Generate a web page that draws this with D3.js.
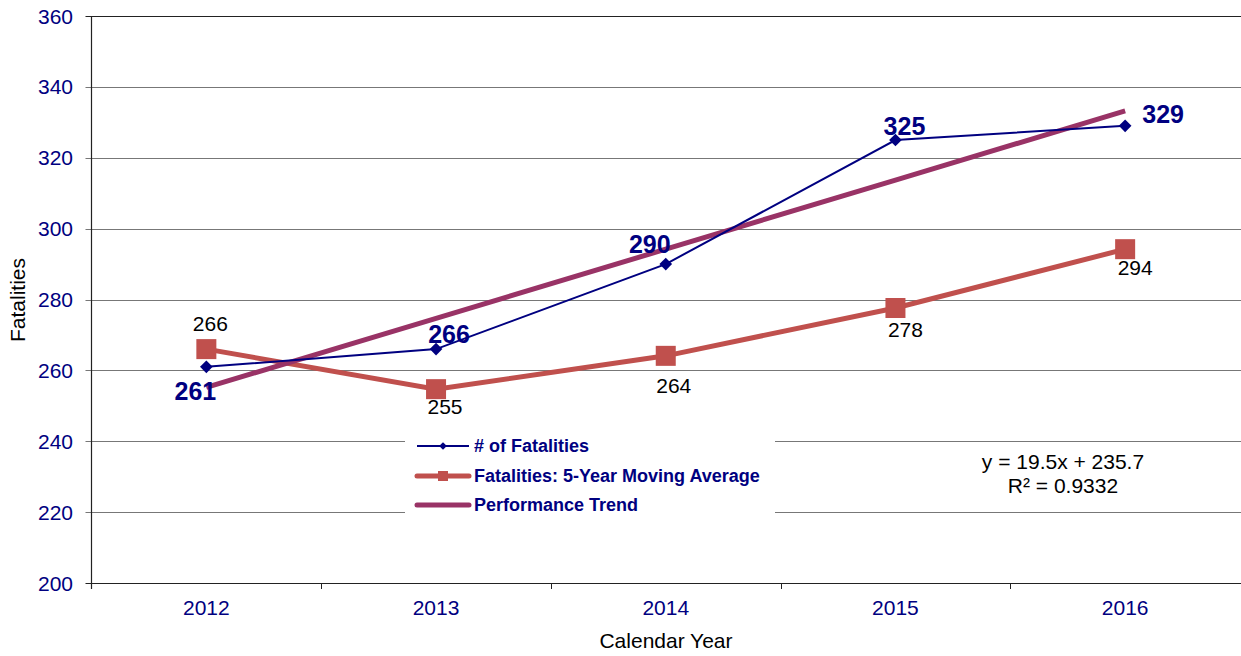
<!DOCTYPE html>
<html><head><meta charset="utf-8">
<script src="https://cdn.jsdelivr.net/npm/d3@7"></script>
<style>body{margin:0;background:#fff;}svg{display:block;font-family:"Liberation Sans",Arial,sans-serif;}</style>
</head><body><svg id="c" width="1241" height="656"></svg>
<script>
const years = ["2012","2013","2014","2015","2016"];
const fatalities = [261, 266, 290, 325, 329];
const movingAvg = [266.0, 254.7, 264.1, 277.6, 294.2];
const trendSlope = 19.5, trendIntercept = 235.7;
const trend = years.map((d,i)=>trendSlope*(i+1)+trendIntercept);
const yTicks = [200,220,240,260,280,300,320,340,360];
const legendLabels = ["# of Fatalities","Fatalities: 5-Year Moving Average","Performance Trend"];
const eqLines = ["y = 19.5x + 235.7","R\u00B2 = 0.9332"];

const svg = d3.select("#c");
const L=91.5, R=1240, T=16, B=583;
const x = d3.scaleBand().domain(years).range([L,R]);
const xc = d=>x(d)+x.bandwidth()/2;
const y = d3.scaleLinear().domain([200,360]).range([B,T]);
const navy="#000080", red="#C0504D", purple="#993366";

// gridlines
svg.append("g").selectAll("line").data(yTicks).join("line")
  .attr("x1",L-6).attr("x2",R+1).attr("y1",d=>Math.round(y(d))+0.5).attr("y2",d=>Math.round(y(d))+0.5)
  .attr("stroke",d=>d===360||d===200?"#222":"#777").attr("stroke-width",1.2);
// y tick labels
svg.append("g").selectAll("text").data(yTicks).join("text")
  .attr("x",73).attr("y",d=>y(d)).attr("dy","0.36em").attr("text-anchor","end")
  .attr("fill",navy).attr("font-size",21).text(d=>d);
// axes
svg.append("line").attr("x1",L).attr("x2",L).attr("y1",T).attr("y2",B+6).attr("stroke","#222").attr("stroke-width",1.2);
const xt = years.map(d=>x(d)).concat([R]);
svg.append("g").selectAll("line").data(xt.slice(1,5)).join("line")
  .attr("x1",d=>Math.round(d)+0.5).attr("x2",d=>Math.round(d)+0.5).attr("y1",B).attr("y2",B+6).attr("stroke","#222");
svg.append("g").selectAll("text").data(years).join("text")
  .attr("x",d=>xc(d)).attr("y",615).attr("text-anchor","middle").attr("fill",navy).attr("font-size",21).text(d=>d);
svg.append("text").attr("x",666).attr("y",648).attr("text-anchor","middle").attr("font-size",21).text("Calendar Year");
svg.append("text").attr("transform","translate(25,300) rotate(-90)").attr("text-anchor","middle").attr("font-size",21).text("Fatalities");

// legend background
const lg = svg.append("g");
lg.append("rect").attr("x",405).attr("y",431).attr("width",370).attr("height",88).attr("fill","#fff");

const line = d3.line().x((d,i)=>xc(years[i])).y(d=>y(d));
// moving average
svg.append("path").datum(movingAvg).attr("d",line).attr("fill","none").attr("stroke",red).attr("stroke-width",5);
svg.append("g").selectAll("rect").data(movingAvg).join("rect")
  .attr("x",(d,i)=>xc(years[i])-10).attr("y",d=>y(d)-10).attr("width",20).attr("height",20).attr("fill",red);
// trend
svg.append("path").datum(trend).attr("d",line).attr("fill","none").attr("stroke",purple).attr("stroke-width",5);
// fatalities
svg.append("path").datum(fatalities).attr("d",line).attr("fill","none").attr("stroke",navy).attr("stroke-width",2);
svg.append("g").selectAll("path").data(fatalities).join("path")
  .attr("d",d3.symbol().type(d3.symbolSquare).size(80))
  .attr("transform",(d,i)=>`translate(${xc(years[i])},${y(d)}) rotate(45)`).attr("fill",navy);

// fatalities labels
const fOff = [[-11,33],[13,-6],[-16,-11],[9,-5],[38,-3]];
svg.append("g").selectAll("text").data(fatalities).join("text")
  .attr("x",(d,i)=>xc(years[i])+fOff[i][0]).attr("y",(d,i)=>y(d)+fOff[i][1])
  .attr("text-anchor","middle").attr("font-size",25).attr("font-weight","bold").attr("fill",navy).text(d=>d);
// moving avg labels
const mOff = [[4,-18],[9,25],[8,37],[10,29],[10,26]];
svg.append("g").selectAll("text").data(movingAvg).join("text")
  .attr("x",(d,i)=>xc(years[i])+mOff[i][0]).attr("y",(d,i)=>y(d)+mOff[i][1])
  .attr("text-anchor","middle").attr("font-size",21).attr("fill","#000").text(d=>Math.round(d));

// legend entries
const rows=[446,476,505];
lg.raise();
lg.selectAll("text").data(legendLabels).join("text")
  .attr("x",474).attr("y",(d,i)=>rows[i]).attr("dy","0.36em").attr("font-size",18).attr("font-weight","bold").attr("fill",navy).text(d=>d);
lg.append("line").attr("x1",417).attr("x2",469).attr("y1",rows[0]).attr("y2",rows[0]).attr("stroke",navy).attr("stroke-width",2);
lg.append("path").attr("d",d3.symbol().type(d3.symbolSquare).size(30)()).attr("transform",`translate(443,${rows[0]}) rotate(45)`).attr("fill",navy);
lg.append("line").attr("x1",417).attr("x2",469).attr("y1",rows[1]).attr("y2",rows[1]).attr("stroke",red).attr("stroke-width",5).attr("stroke-linecap","round");
lg.append("rect").attr("x",438).attr("y",rows[1]-5).attr("width",10).attr("height",10).attr("fill",red);
lg.append("line").attr("x1",417).attr("x2",469).attr("y1",rows[2]).attr("y2",rows[2]).attr("stroke",purple).attr("stroke-width",5).attr("stroke-linecap","round");

// equation
svg.append("g").selectAll("text").data(eqLines).join("text")
  .attr("x",1063).attr("y",(d,i)=>469+i*24).attr("text-anchor","middle").attr("font-size",21).attr("fill","#000").text(d=>d);
</script></body></html>
